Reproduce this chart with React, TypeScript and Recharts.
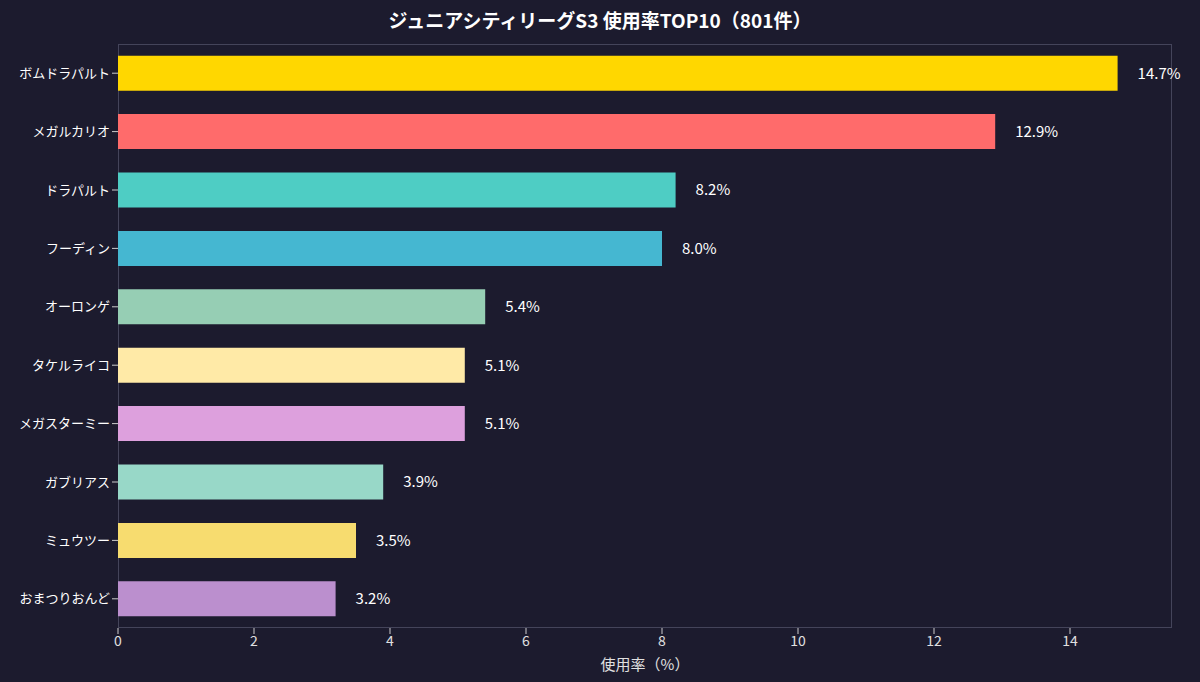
import React from 'react';
import { BarChart, Bar, XAxis, YAxis, Cell, LabelList } from 'recharts';

const names = ['ボムドラパルト', 'メガルカリオ', 'ドラパルト', 'フーディン', 'オーロンゲ', 'タケルライコ', 'メガスターミー', 'ガブリアス', 'ミュウツー', 'おまつりおんど'];
const usage = [14.7, 12.9, 8.2, 8.0, 5.4, 5.1, 5.1, 3.9, 3.5, 3.2];
const colors = ['#FFD700', '#FF6B6B', '#4ECDC4', '#45B7D1', '#96CEB4', '#FFEAA7', '#DDA0DD', '#98D8C8', '#F7DC6F', '#BB8FCE'];
const xTicks = [0, 2, 4, 6, 8, 10, 12, 14];

const data = names.map((name, i) => ({ name, value: usage[i] }));
const font = '"Noto Sans CJK JP", "Noto Sans", sans-serif';

const App: React.FC = () => {
  return (
    <div style={{ position: 'fixed', left: 0, top: 0, width: 1200, height: 682, background: '#1c1b2e', fontFamily: font }}>
      <div style={{ position: 'absolute', top: 6, width: 1200, textAlign: 'center', color: '#fff', fontSize: 19, fontWeight: 700 }}>
        ジュニアシティリーグS3 使用率TOP10（801件）
      </div>
      <div style={{ position: 'absolute', left: 118, top: 44, width: 1054, height: 584, border: '1px solid #44445a', boxSizing: 'border-box', pointerEvents: 'none' }} />
      <div style={{ position: 'absolute', left: 0, top: 0 }}>
        <BarChart width={1200} height={682} data={data} layout="vertical" barCategoryGap="20%"
          margin={{ top: 44, right: 28, bottom: 0, left: 0 }}>
          <XAxis type="number" domain={[0, 15.5]} ticks={xTicks} height={54}
            tick={{ fill: '#e0e0e0', fontSize: 14, fontFamily: font }} tickLine={{ stroke: '#ccc' }} axisLine={false}
            label={{ value: '使用率（%）', position: 'insideBottom', offset: 12, fill: '#e0e0e0', fontSize: 15, fontFamily: font }} />
          <YAxis type="category" dataKey="name" width={118} interval={0}
            tick={{ fill: '#fff', fontSize: 13, fontFamily: font }} tickLine={{ stroke: '#ccc' }} axisLine={false} />
          <Bar dataKey="value" isAnimationActive={false}>
            {data.map((d, i) => <Cell key={d.name} fill={colors[i]} />)}
            <LabelList dataKey="value" position="right" offset={20} formatter={(v: any) => `${Number(v).toFixed(1)}%`}
              style={{ fill: '#fff', fontSize: 15, fontFamily: font }} />
          </Bar>
        </BarChart>
      </div>
    </div>
  );
};

export default App;
